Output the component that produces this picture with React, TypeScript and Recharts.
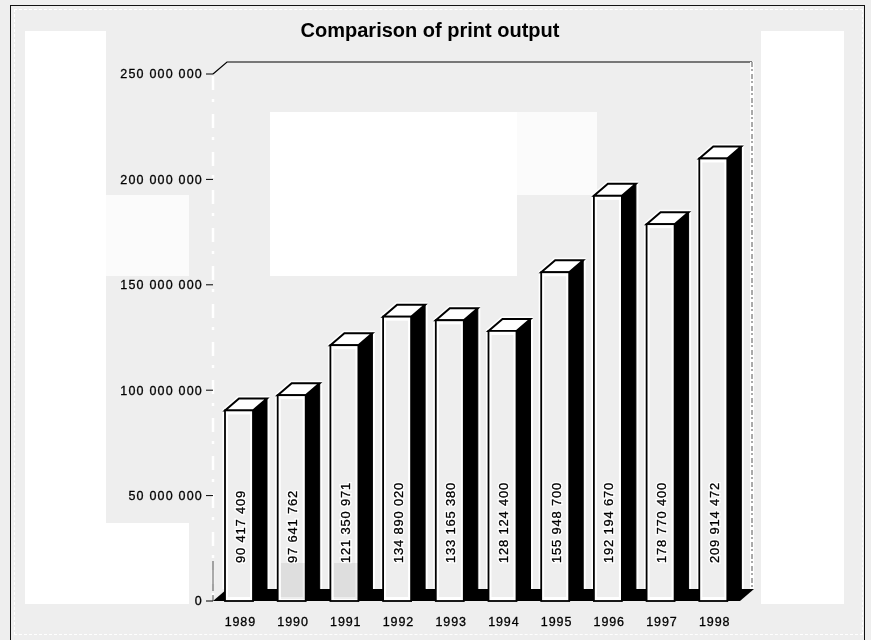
import React from 'react';
import { BarChart, Bar, XAxis, YAxis, LabelList, usePlotArea } from 'recharts';

const years = ['1989', '1990', '1991', '1992', '1993', '1994', '1995', '1996', '1997', '1998'];
const printOutput = [90417409, 97641762, 121350971, 134890020, 133165380, 128124400, 155948700, 192194670, 178770400, 209914472];
const yTicks = [0, 50000000, 100000000, 150000000, 200000000, 250000000];

const data = years.map((year, i) => ({ year, output: printOutput[i] }));

// scan leftovers behind the chart: x, y, w, h, colour
const patches: [number, number, number, number, string][] = [
  [25, 31, 81, 573, '#fff'],
  [106, 523, 83, 81, '#fff'],
  [761, 31, 83, 573, '#fff'],
  [270, 112, 247, 164, '#fff'],
  [106, 195, 83, 81, '#fbfbfb'],
  [517, 112, 80, 83, '#fbfbfb'],
];
const tints: [number, number, number, number][] = [
  [281, 563, 24, 36],
  [334, 563, 24, 36],
];

const DX = 14;
const DY = 12;
const FONT = '"Liberation Sans", Arial, sans-serif';
const fmt = (v: number) => v.toLocaleString('en-US').replace(/,/g, ' ');

const Bar3D = (props: any) => {
  const { x, y, width: w, height: h } = props;
  const outline = `M${x} ${y + h - DY}V${y}L${x + DX} ${y - DY}H${x + w + DX}V${y + h - DY}`;
  return (
    <g>
      <path d={outline} fill="none" stroke="#fff" strokeWidth={5} />
      <path d={`M${x + w} ${y}L${x + DX + w} ${y - DY}V${y + h - DY}L${x + w} ${y + h}Z`} fill="#000" stroke="#000" />
      <path d={`M${x} ${y}L${x + DX} ${y - DY}H${x + w + DX}L${x + w} ${y}Z`} fill="#fff" stroke="#000" strokeWidth={2} />
      <rect x={x} y={y} width={w} height={h} fill="#fff" stroke="#000" strokeWidth={1.8} />
      <rect x={x + 3} y={y + 4} width={w - 6} height={h - 8} fill="#eee" />
    </g>
  );
};

const BarValue = (props: any) => {
  const { x, y, width, height, value } = props;
  const cx = x + width / 2 + 1;
  const by = y + height - 38;
  const textProps = {
    x: cx,
    y: by,
    transform: `rotate(-90 ${cx} ${by})`,
    dominantBaseline: 'central',
    fontFamily: FONT,
    fontSize: 13,
    letterSpacing: 0.8,
  };
  return (
    <g>
      <text {...textProps} fill="#fff" stroke="#fff" strokeWidth={3}>{fmt(value)}</text>
      <text {...textProps} fill="#000" stroke="#000" strokeWidth={0.3}>{fmt(value)}</text>
    </g>
  );
};

// back wall and floor of the 3d box, placed from the plot area
const Box3D = () => {
  const area = usePlotArea();
  if (!area) return null;
  const { x, y, width: w, height: h } = area;
  const r = x + w;
  const b = y + h;
  return (
    <g>
      <path d={`M${x} ${y}L${x + DX} ${y - DY}H${r + DX - 2}`} fill="none" stroke="#000" strokeWidth={1.2} />
      <path d={`M${r + DX - 2} ${y - DY}V${b - DY}`} fill="none" stroke="#fff" strokeWidth={4} />
      <path d={`M${r + DX - 2} ${y - DY}V${b - DY}`} fill="none" stroke="#555" strokeDasharray="5 2 2 3" />
      <path d={`M${x} ${y + 2}V${b}`} fill="none" stroke="#fff" strokeWidth={2.5} strokeDasharray="14 9 3 12" />
      <path d={`M${x} ${b - 40}V${b}`} fill="none" stroke="#555" strokeDasharray="30 4" />
      <path d={`M${x} ${b}L${x + DX} ${b - DY}H${r + DX}L${r} ${b}Z`} fill="#000" />
    </g>
  );
};

export default function App() {
  return (
    <div style={{ position: 'absolute', left: 0, top: 0, width: 871, height: 640, background: '#eee', overflow: 'hidden' }}>
      {patches.map(([x, y, w, h, c], i) => (
        <div key={i} style={{ position: 'absolute', left: x, top: y, width: w, height: h, background: c }} />
      ))}
      <div style={{ position: 'absolute', left: 14, top: 9, width: 847, height: 624, border: '1px dashed #fff' }} />
      <div style={{ position: 'absolute', left: 10, top: 5, width: 855, height: 640, border: '1.5px solid #111', boxSizing: 'border-box' }} />
      <div style={{ position: 'absolute', left: 0, top: 19, width: 860, textAlign: 'center', fontFamily: FONT, fontWeight: 'bold', fontSize: 20, lineHeight: '22px', color: '#000' }}>
        Comparison of print output
      </div>
      <div style={{ position: 'absolute', left: 0, top: 0 }}>
        <BarChart width={871} height={640} data={data} margin={{ top: 74, right: 131, bottom: 9, left: 113 }} barSize={28}>
          <Box3D />
          <XAxis
            dataKey="year"
            axisLine={false}
            tickLine={false}
            tickMargin={10}
            interval={0}
            tick={{ fontFamily: FONT, fontSize: 12.5, fill: '#000', stroke: '#000', strokeWidth: 0.3, letterSpacing: 0.9, dx: 1 }}
          />
          <YAxis
            width={100}
            domain={[0, 250000000]}
            ticks={yTicks}
            tickFormatter={fmt}
            axisLine={false}
            tickSize={7}
            tickMargin={3}
            tickLine={{ stroke: '#000' }}
            tick={{ fontFamily: FONT, fontSize: 12.5, fill: '#000', stroke: '#000', strokeWidth: 0.3, letterSpacing: 1.2 }}
          />
          <Bar dataKey="output" isAnimationActive={false} shape={<Bar3D />}>
            <LabelList dataKey="output" content={<BarValue />} />
          </Bar>
        </BarChart>
      </div>
      {tints.map(([x, y, w, h], i) => (
        <div key={i} style={{ position: 'absolute', left: x, top: y, width: w, height: h, background: '#eee', mixBlendMode: 'multiply', pointerEvents: 'none' }} />
      ))}
    </div>
  );
}
